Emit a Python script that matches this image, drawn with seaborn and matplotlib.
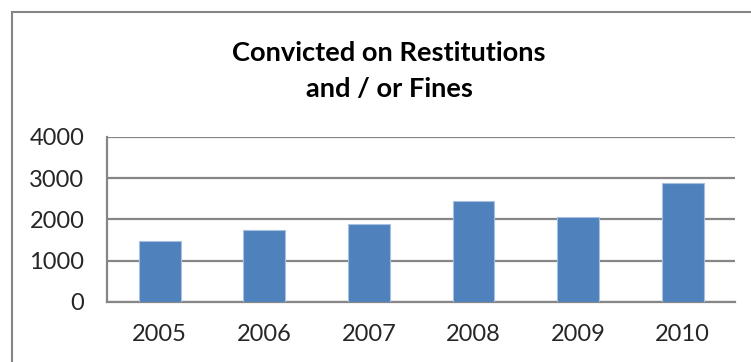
import matplotlib
matplotlib.use("Agg")
import matplotlib.pyplot as plt
from matplotlib.patches import Rectangle
import seaborn as sns
import pandas as pd

years = ["2005", "2006", "2007", "2008", "2009", "2010"]
convicted = [1480, 1735, 1880, 2440, 2050, 2880]
y_ticks = [0, 1000, 2000, 3000, 4000]

sns.set_style("white")
plt.rcParams["font.family"] = ["Lato", "DejaVu Sans"]

df = pd.DataFrame({"year": years, "convicted": convicted})

W, H = 751, 362
fig = plt.figure(figsize=(W / 100, H / 100), dpi=100)
ax = fig.add_axes([107.3 / W, 1 - 302 / H, (735 - 107.3) / W, (302 - 136.7) / H])

grey = "#868686"

sns.barplot(data=df, x="year", y="convicted", color="#4F81BD", saturation=1,
            width=0.40, edgecolor="#A7C0E0", linewidth=0.8, ax=ax, zorder=3)

ax.set_ylim(0, 4000)
ax.set_xlim(-0.5, len(years) - 0.5)
ax.set_yticks(y_ticks)
ax.set_yticklabels([str(v) for v in y_ticks], fontsize=17)
ax.yaxis.grid(True, color=grey, linewidth=1.6, zorder=0)
ax.set_axisbelow(True)

# category labels without marks; boundary marks as minor ticks
ax.set_xticks(range(len(years)))
ax.set_xticklabels(years, fontsize=17)
ax.set_xticks([i - 0.5 for i in range(len(years) + 1)], minor=True)
ax.tick_params(axis="x", which="major", length=0, pad=16)
ax.tick_params(axis="x", which="minor", length=5.5, width=1.3, color=grey)
ax.tick_params(axis="y", length=5.5, width=1.3, color=grey, pad=11)
ax.set_xlabel("")
ax.set_ylabel("")

for side in ("top", "right"):
    ax.spines[side].set_visible(False)
for side in ("left", "bottom"):
    ax.spines[side].set_color(grey)
    ax.spines[side].set_linewidth(1.6)

fig.text(389 / W, 1 - 53 / H, "Convicted on Restitutions", ha="center", va="center",
         fontsize=19.6, fontweight="bold", color="black")
fig.text(389 / W, 1 - 89 / H, "and / or Fines", ha="center", va="center",
         fontsize=19.6, fontweight="bold", color="black")

# chart frame
fig.patches.append(Rectangle((12 / W, -0.1), 1.2, 1 - 11.5 / H + 0.1, transform=fig.transFigure,
                             fill=False, edgecolor=grey, linewidth=1.5))

fig.savefig("out.png", dpi=100)
